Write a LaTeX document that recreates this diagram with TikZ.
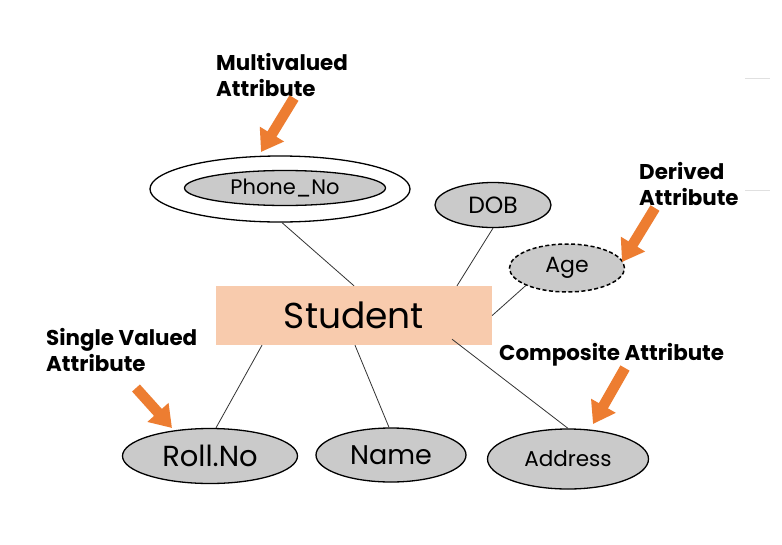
\documentclass[tikz,border=0pt]{standalone}
\usepackage{fontspec}
\setmainfont{Poppins}
\usetikzlibrary{shapes.geometric,arrows.meta}
\definecolor{attrfill}{HTML}{CACACA}
\definecolor{entfill}{HTML}{F8CBAD}
\definecolor{arrorange}{HTML}{ED7D31}
\tikzset{
  attr/.style={ellipse,draw=black,line width=1.3pt,fill=attrfill,inner sep=0pt},
  outerattr/.style={ellipse,draw=black,line width=1.3pt,fill=white,inner sep=0pt},
  entity/.style={rectangle,fill=entfill,inner sep=0pt,minimum width=276pt,minimum height=59pt},
  link/.style={draw=black!80,line width=0.8pt},
  callout/.style={line width=10.5pt,draw=arrorange,-{Triangle[width=27pt,length=21pt]}},
  lbl/.style={anchor=north west,inner sep=0pt,align=left,font=\fontsize{21.4}{26.5}\selectfont\bfseries}
}
\begin{document}
\begin{tikzpicture}[x=1pt,y=-1pt]
\useasboundingbox[fill=white] (0,0) rectangle (782,544);
% faint edge lines
\draw[black!12,line width=0.8pt] (745,78) -- (770,78);
\draw[black!12,line width=0.8pt] (745,190) -- (770,190);
% entity
\node[entity] (student) at (354,315.5) {\fontsize{36}{36}\selectfont Student};
% attributes
\node[outerattr,minimum width=260pt,minimum height=66pt] (phoneout) at (280,189) {};
\node[attr,minimum width=201pt,minimum height=35pt] (phone) at (285,188) {\fontsize{21}{21}\selectfont Phone\_No};
\node[attr,minimum width=116pt,minimum height=45pt] (dob) at (493,205) {\fontsize{23.5}{23.5}\selectfont DOB};
\node[attr,dash pattern=on 4pt off 2.5pt,line width=1.5pt,minimum width=115pt,minimum height=48pt] (age) at (567,268) {\fontsize{22}{22}\selectfont Age};
\node[attr,minimum width=175pt,minimum height=55pt] (roll) at (210,456) {\fontsize{29}{29}\selectfont Roll.No};
\node[attr,minimum width=150pt,minimum height=54pt] (name) at (391,455) {\fontsize{27}{27}\selectfont Name};
\node[attr,minimum width=161pt,minimum height=60pt] (address) at (568,459) {\fontsize{21.5}{21.5}\selectfont Address};
% connectors
\draw[link] ([xshift=2pt]phoneout.south) -- (student.north);
\draw[link] (dob.south) -- ([xshift=103pt]student.north);
\draw[link] (age.south west) -- (student.east);
\draw[link] ([xshift=-92pt]student.south) -- ([xshift=6pt]roll.north);
\draw[link] ([xshift=1pt]student.south) -- ([xshift=-2pt]name.north);
\draw[link] ([xshift=98pt,yshift=6pt]student.south) -- (address.north);
% callout labels
\node[lbl] (lmulti) at (216,53) {Multivalued\\Attribute};
\node[lbl] (lderived) at (639,162) {Derived\\Attribute};
\node[lbl] (lsingle) at (46,328) {Single Valued\\Attribute};
\node[lbl] (lcomp) at (499,343) {Composite Attribute};
% callout arrows
\coordinate (t1) at (294,98);  \coordinate (h1) at (261,152);
\coordinate (t2) at (655,208); \coordinate (h2) at (622,262);
\coordinate (t3) at (136,388); \coordinate (h3) at (172,428);
\coordinate (t4) at (625,368); \coordinate (h4) at (593,424);
\draw[callout] (t1) -- (h1);
\draw[callout] (t2) -- (h2);
\draw[callout] (t3) -- (h3);
\draw[callout] (t4) -- (h4);
\end{tikzpicture}
\end{document}
